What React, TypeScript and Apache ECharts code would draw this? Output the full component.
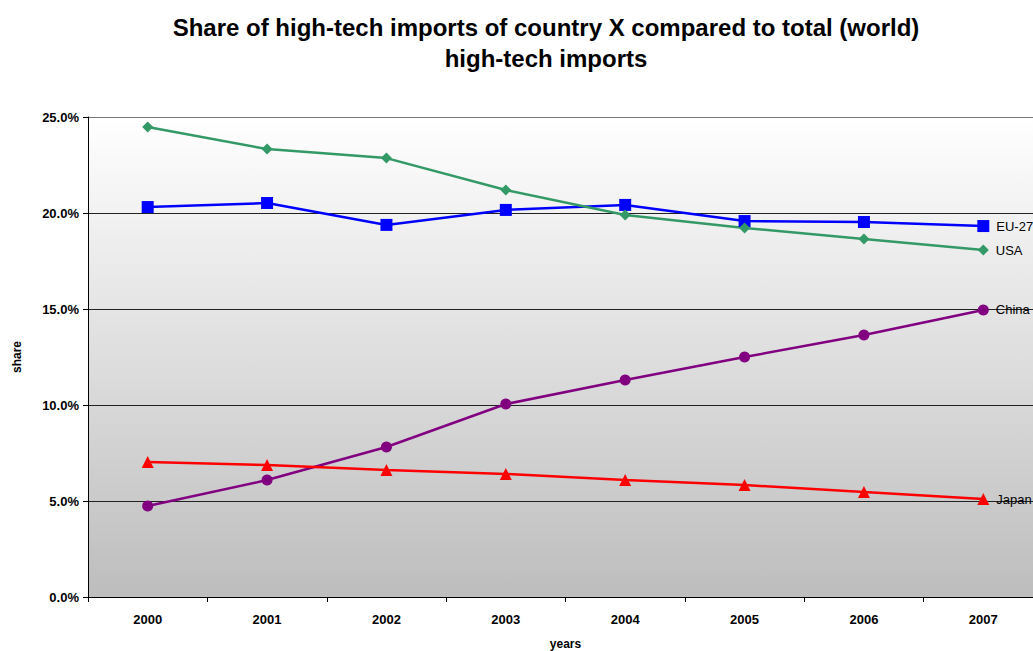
import React, { useEffect, useRef } from "react";
import * as echarts from "echarts";

const years = ["2000", "2001", "2002", "2003", "2004", "2005", "2006", "2007"];
const eu27 = [20.31, 20.52, 19.38, 20.16, 20.42, 19.58, 19.53, 19.32];
const usa = [24.48, 23.33, 22.86, 21.2, 19.9, 19.22, 18.65, 18.07];
const china = [4.74, 6.09, 7.81, 10.05, 11.3, 12.5, 13.65, 14.95];
const japan = [7.03, 6.875, 6.61, 6.41, 6.09, 5.83, 5.47, 5.1];
const yTicks = [0, 5, 10, 15, 20, 25];

const FONT = "'Liberation Sans', Arial, sans-serif";

function mkSeries(name: string, data: number[], color: string, symbol: string, size: number) {
  return {
    name,
    type: "line",
    data: data.map((v, i) =>
      i === data.length - 1
        ? {
            value: v,
            label: {
              show: true,
              position: "right",
              distance: 7,
              formatter: name,
              color: "#000",
              fontFamily: FONT,
              fontSize: 13,
            },
          }
        : v
    ),
    symbol,
    symbolSize: size,
    showAllSymbol: true,
    lineStyle: { color, width: 2.5 },
    itemStyle: { color },
    z: 3,
  };
}

export default function App() {
  const ref = useRef<HTMLDivElement>(null);
  useEffect(() => {
    document.body.style.margin = "0";
    document.body.style.overflow = "hidden";
    const chart = echarts.init(ref.current!, undefined, { renderer: "svg" });
    chart.setOption({
      animation: false,
      backgroundColor: "#fff",
      title: {
        text: "Share of high-tech imports of country X compared to total (world)\nhigh-tech imports",
        left: 541,
        top: 7,
        textAlign: "center",
        textStyle: {
          fontFamily: FONT,
          fontWeight: "bold",
          fontSize: 24,
          lineHeight: 31,
          color: "#000",
        },
      },
      grid: {
        left: 88,
        right: 2,
        top: 117,
        bottom: 54,
        show: true,
        borderWidth: 0,
        outerBoundsMode: "none",
        containLabel: false,
        backgroundColor: new echarts.graphic.LinearGradient(0, 0, 0, 1, [
          { offset: 0, color: "#ffffff" },
          { offset: 1, color: "#bdbdbd" },
        ]),
      },
      xAxis: {
        type: "category",
        data: years,
        boundaryGap: true,
        name: "years",
        nameLocation: "middle",
        nameGap: 41,
        nameTextStyle: { fontFamily: FONT, fontWeight: "bold", fontSize: 12, color: "#000" },
        axisLine: { lineStyle: { color: "#000", width: 1 } },
        axisTick: { show: true, length: 5, lineStyle: { color: "#000" } },
        axisLabel: { fontFamily: FONT, fontWeight: "bold", fontSize: 13, color: "#000", margin: 16 },
      },
      yAxis: {
        type: "value",
        min: 0,
        max: 25,
        interval: 5,
        name: "share",
        nameLocation: "middle",
        nameGap: 65,
        nameRotate: 90,
        nameTextStyle: { fontFamily: FONT, fontWeight: "bold", fontSize: 12, color: "#000" },
        axisLine: { show: true, lineStyle: { color: "#000", width: 1 } },
        axisTick: { show: true, length: 5, lineStyle: { color: "#000" } },
        axisLabel: {
          fontFamily: FONT,
          fontWeight: "bold",
          fontSize: 13,
          color: "#000",
          margin: 9,
          formatter: (v: number) => (yTicks.includes(v) ? v.toFixed(1) + "%" : ""),
        },
        splitLine: {
          show: true,
          lineStyle: { color: ["#222", "#222", "#222", "#222", "#222", "#777"], width: 1 },
        },
      },
      series: [
        mkSeries("EU-27", eu27, "#0000ff", "rect", 12),
        mkSeries("USA", usa, "#339966", "diamond", 11),
        mkSeries("China", china, "#800080", "circle", 11),
        mkSeries("Japan", japan, "#ff0000", "triangle", 12),
      ],
    });
    return () => chart.dispose();
  }, []);
  return <div ref={ref} style={{ width: 1045, height: 651 }} />;
}
